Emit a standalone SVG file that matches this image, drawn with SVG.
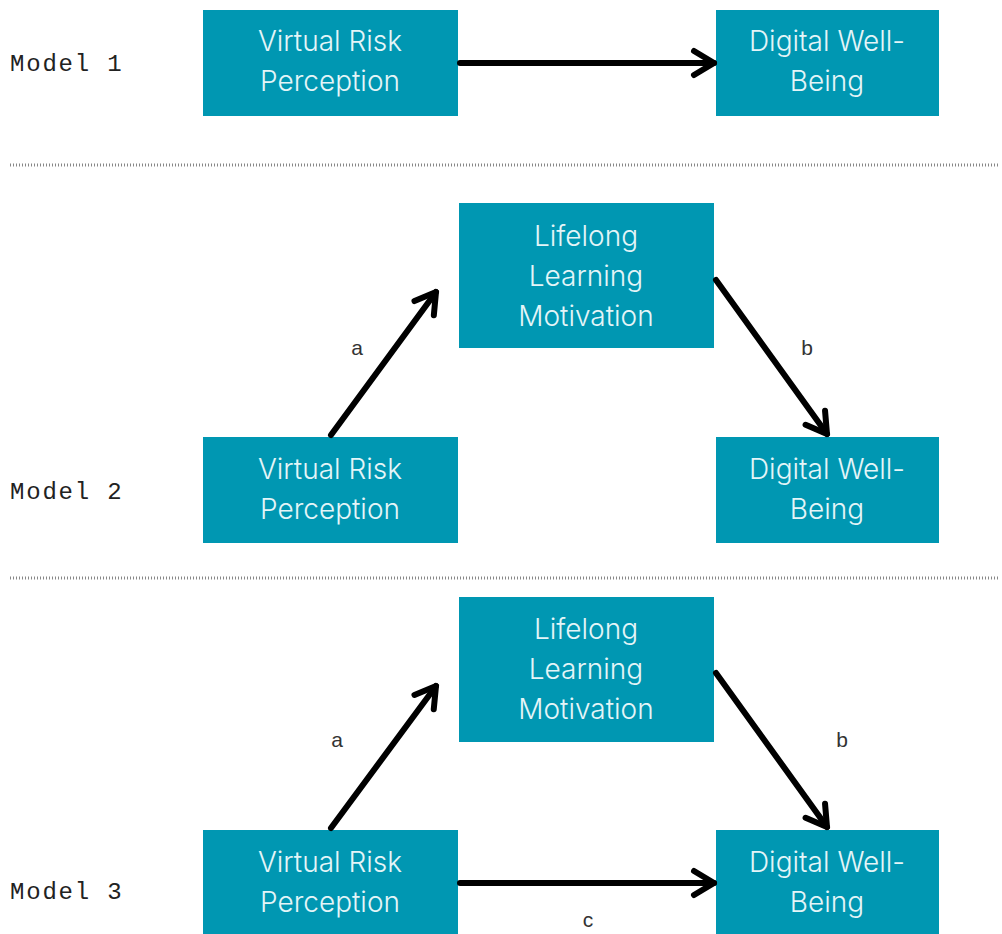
<svg xmlns="http://www.w3.org/2000/svg" width="1002" height="934" viewBox="0 0 1002 934">
  <style>
    .box { fill: #0097b2; }
    .lbl { font-family: Inter, "Noto Sans", sans-serif; font-size: 28px; font-weight: 350; fill: #e4f5f8; text-anchor: middle; }
    .model { font-family: "Liberation Mono", "DejaVu Sans Mono", monospace; font-size: 24px; letter-spacing: 1.8px; fill: #222; }
    .edge { stroke: #000; stroke-width: 6; fill: none; stroke-linecap: round; marker-end: url(#head); }
    .elbl { font-family: "Liberation Sans", Arial, sans-serif; font-size: 21px; fill: #333; text-anchor: middle; }
    .sep { stroke: #888; stroke-width: 3; stroke-dasharray: 1 2; }
  </style>
  <defs>
    <marker id="head" markerUnits="userSpaceOnUse" markerWidth="40" markerHeight="40" viewBox="-30 -20 40 40" refX="0" refY="0" orient="auto">
      <path d="M -20 -12 L 0 0 L -20 12" fill="none" stroke="#000" stroke-width="6" stroke-linecap="round" stroke-linejoin="round"/>
    </marker>
  </defs>

  <!-- section labels and separators -->
  <text class="model" x="10" y="71">Model 1</text>
  <text class="model" x="10" y="499">Model 2</text>
  <text class="model" x="10" y="899">Model 3</text>
  <line class="sep" x1="10" y1="165" x2="1000" y2="165"/>
  <line class="sep" x1="10" y1="578" x2="1000" y2="578"/>

  <!-- Model 1 -->
  <g id="m1-vrp">
    <rect class="box" x="203" y="10" width="255" height="106"/>
    <text class="lbl" x="330" y="51">Virtual Risk</text>
    <text class="lbl" x="330" y="91">Perception</text>
  </g>
  <g id="m1-dwb">
    <rect class="box" x="716" y="10" width="223" height="106"/>
    <text class="lbl" x="827" y="51">Digital Well-</text>
    <text class="lbl" x="827" y="91">Being</text>
  </g>

  <!-- Model 2 -->
  <g id="m2-llm">
    <rect class="box" x="459" y="203" width="255" height="145"/>
    <text class="lbl" x="586" y="246">Lifelong</text>
    <text class="lbl" x="586" y="286">Learning</text>
    <text class="lbl" x="586" y="326">Motivation</text>
  </g>
  <g id="m2-vrp">
    <rect class="box" x="203" y="437" width="255" height="106"/>
    <text class="lbl" x="330" y="479">Virtual Risk</text>
    <text class="lbl" x="330" y="519">Perception</text>
  </g>
  <g id="m2-dwb">
    <rect class="box" x="716" y="437" width="223" height="106"/>
    <text class="lbl" x="827" y="479">Digital Well-</text>
    <text class="lbl" x="827" y="519">Being</text>
  </g>

  <!-- Model 3 -->
  <g id="m3-llm">
    <rect class="box" x="459" y="597" width="255" height="145"/>
    <text class="lbl" x="586" y="639">Lifelong</text>
    <text class="lbl" x="586" y="679">Learning</text>
    <text class="lbl" x="586" y="719">Motivation</text>
  </g>
  <g id="m3-vrp">
    <rect class="box" x="203" y="830" width="255" height="104"/>
    <text class="lbl" x="330" y="872">Virtual Risk</text>
    <text class="lbl" x="330" y="912">Perception</text>
  </g>
  <g id="m3-dwb">
    <rect class="box" x="716" y="830" width="223" height="104"/>
    <text class="lbl" x="827" y="872">Digital Well-</text>
    <text class="lbl" x="827" y="912">Being</text>
  </g>

  <!-- connectors -->
  <g id="connectors">
    <line class="edge" x1="460" y1="63" x2="714" y2="63"/>

    <line class="edge" x1="331" y1="435" x2="436" y2="292"/>
    <line class="edge" x1="716" y1="280" x2="827" y2="434"/>
    <text class="elbl" x="357" y="355">a</text>
    <text class="elbl" x="807" y="355">b</text>

    <line class="edge" x1="331" y1="828" x2="436" y2="686"/>
    <line class="edge" x1="716" y1="673" x2="827" y2="827"/>
    <line class="edge" x1="460" y1="883" x2="714" y2="883"/>
    <text class="elbl" x="337" y="747">a</text>
    <text class="elbl" x="842" y="747">b</text>
    <text class="elbl" x="588" y="927">c</text>
  </g>
</svg>
